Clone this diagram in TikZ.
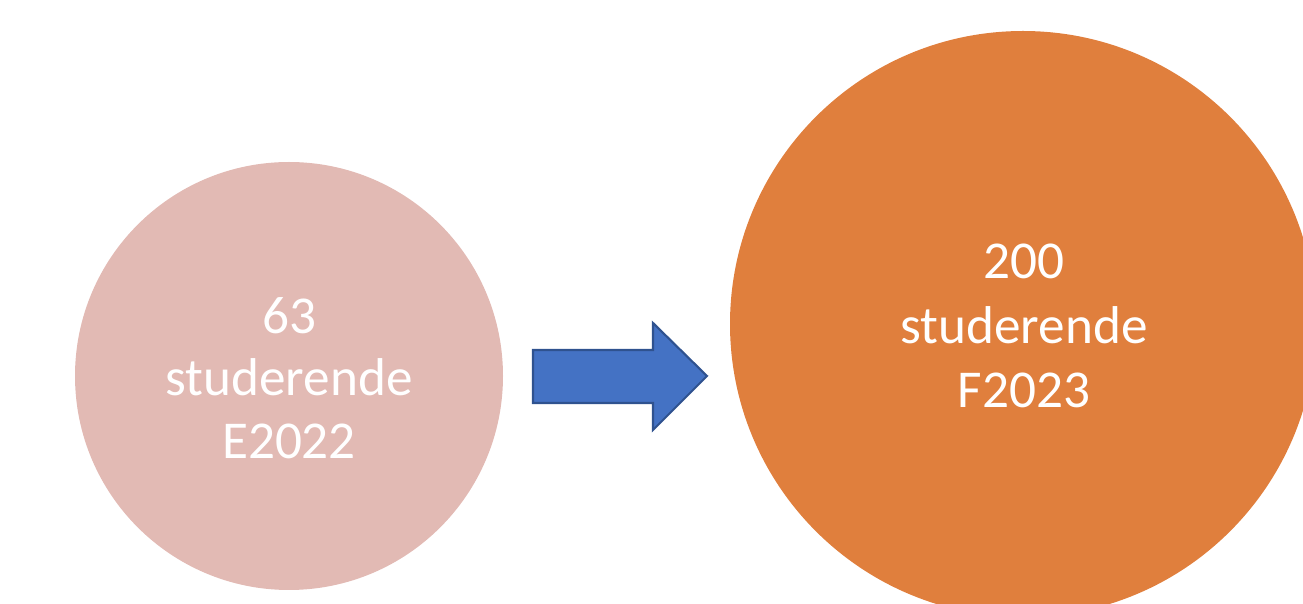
\documentclass[tikz,border=0pt]{standalone}
\usepackage{fontspec}
\setmainfont{Carlito}
\usepackage{tikz}

\definecolor{rosa}{HTML}{E2BAB4}
\definecolor{orange}{HTML}{E07F3D}
\definecolor{pilblaa}{HTML}{4472C4}
\definecolor{pilkant}{HTML}{2F528F}

\begin{document}
\begin{tikzpicture}[x=0.02cm, y=-0.02cm]
        \useasboundingbox (0,0) rectangle (1303,604);
        \clip (0,0) rectangle (1303,604);
        \draw[fill=rosa, draw=none] (289,376) circle [radius=214];
        \draw[fill=orange, draw=none] (1023,324) circle [radius=293];
        \draw[fill=pilblaa, draw=pilkant, line width=1.2pt, line join=miter] (533,350) -- (653,350) -- (653,323) -- (707,376) -- (653,430) -- (653,403) -- (533,403) -- cycle;
        \node[text=white, align=center, font=\fontsize{30.3}{35.5}\selectfont] (e2022) at (289,378) {63\\studerende\\E2022};
        \node[text=white, align=center, font=\fontsize{30.3}{36.5}\selectfont] (f2023) at (1024,326) {200\\studerende\\F2023};
    \end{tikzpicture}
\end{document}
